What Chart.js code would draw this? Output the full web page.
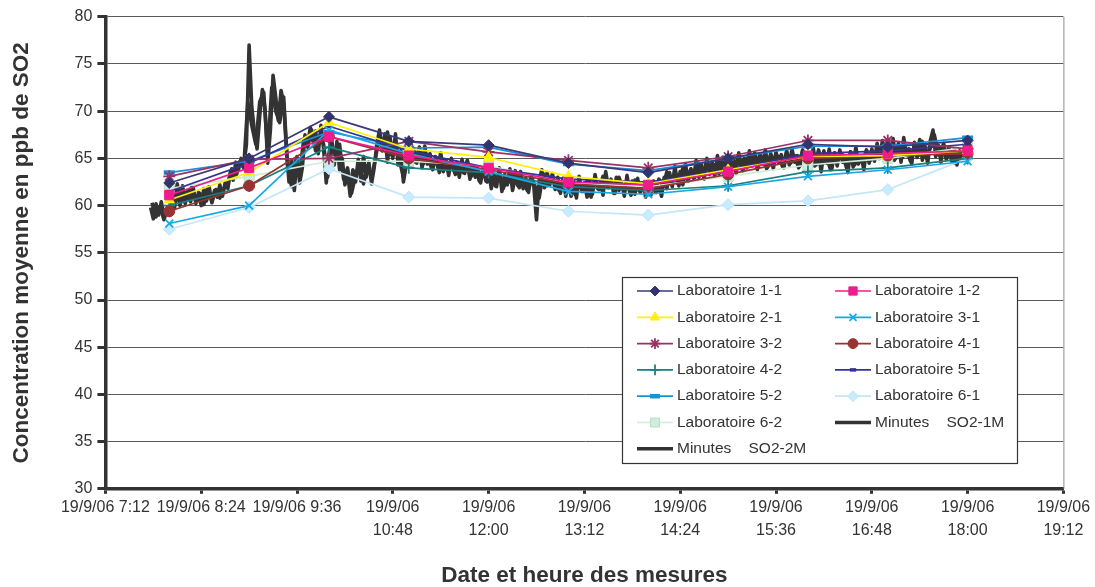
<!DOCTYPE html>
<html><head><meta charset="utf-8">
<script src="https://cdn.jsdelivr.net/npm/chart.js@4.4.1/dist/chart.umd.min.js"></script>
<style>html,body{margin:0;padding:0;background:#fff;}#wrap{width:1095px;height:587px;position:relative;}</style>
</head><body><div id="wrap"><canvas id="c" width="1095" height="587"></canvas></div>
<script>
// ---- DATA ----
// Laboratory hourly means, times in minutes since midnight (8:00 .. 18:00)
const labTimes = [480, 540, 600, 660, 720, 780, 840, 900, 960, 1020, 1080];
const labNames = ['Laboratoire 1-1','Laboratoire 1-2','Laboratoire 2-1','Laboratoire 3-1','Laboratoire 3-2','Laboratoire 4-1','Laboratoire 4-2','Laboratoire 5-1','Laboratoire 5-2','Laboratoire 6-1','Laboratoire 6-2'];
const lab11 = [62.4, 65.0, 69.4, 66.8, 66.4, 64.5, 63.5, 65.0, 66.5, 66.2, 66.9];
const lab12 = [61.1, 64.0, 67.3, 65.3, 64.0, 62.5, 62.2, 63.6, 65.3, 65.5, 65.8];
const lab21 = [60.6, 63.5, 68.8, 66.0, 65.1, 63.1, 62.3, 63.8, 65.2, 65.3, 65.8];
const lab31 = [58.1, 60.0, 68.0, 65.5, 63.6, 61.5, 61.2, 62.0, 63.1, 63.8, 64.7];
const lab32 = [63.1, 64.9, 65.0, 66.8, 65.7, 64.8, 64.0, 65.2, 66.9, 66.9, 66.0];
const lab41 = [59.4, 62.1, 67.3, 65.0, 63.8, 62.3, 61.8, 63.3, 65.0, 65.3, 65.5];
const lab42 = [60.0, 62.1, 66.2, 64.0, 63.5, 62.0, 61.6, 62.1, 63.6, 64.0, 65.0];
const lab51 = [61.5, 64.5, 68.4, 65.8, 64.0, 62.8, 62.5, 63.8, 65.5, 65.8, 66.5];
const lab52 = [63.5, 64.7, 67.8, 66.1, 66.2, 64.4, 63.7, 65.0, 66.3, 66.3, 67.2];
const lab61 = [57.5, 59.8, 63.9, 60.9, 60.8, 59.4, 59.0, 60.1, 60.5, 61.7, 65.0];
const lab62 = [61.8, 63.1, 64.7, 64.7, 64.2, 62.4, 62.0, 63.1, 64.3, 65.0, 66.2];
const labValues = [lab11, lab12, lab21, lab31, lab32, lab41, lab42, lab51, lab52, lab61, lab62];

// Minute analyser series (values read every 2 min / 3 min)
const minNames = ['Minutes    SO2-1M', 'Minutes    SO2-2M'];
const so2_1M_start = 466, so2_1M_step = 2;
const so2_1M = [
 59.8, 58.6, 60.2, 59.0, 60.4, 58.9, 59.6,
 59.0, 60.8, 59.8, 62.3, 60.6, 62.1, 60.2, 61.6, 60.4, 61.9,
 60.2, 61.4, 60.0, 61.8, 60.5, 62.0, 60.3, 61.6, 60.9, 62.2, 61.0, 62.4,
 61.8, 63.6, 62.7, 64.6, 63.8, 65.0, 64.2, 66.5,
 77.0,
 70.5, 67.8, 66.0, 69.5, 72.3, 70.2, 64.5, 68.0, 73.8, 71.5, 69.0, 72.2, 70.8, 66.0,
 62.5, 64.8, 61.6, 65.2, 62.4, 64.0, 67.5, 66.4, 68.3, 66.8, 67.9, 65.5, 68.5, 66.0, 62.4,
 65.5, 67.2, 64.3, 66.8, 63.8, 65.0, 62.2, 63.5, 61.0, 63.8, 62.5, 64.9, 62.6, 65.2, 63.0, 64.6, 62.3, 64.0, 66.5, 68.0, 65.8, 67.6, 64.6, 67.2, 65.0, 67.6, 64.3, 65.8, 62.5, 64.2,
 66.4, 64.2, 66.0, 64.5, 65.8, 64.0, 66.3, 64.4, 65.5, 63.8, 65.2, 64.1, 65.6, 63.6, 64.8, 63.2, 65.0, 63.7, 64.6, 63.0, 64.9, 63.4, 64.5, 62.8, 64.2, 63.0, 63.9, 62.4, 64.0, 62.6,
 63.8, 61.8, 63.4, 62.0, 64.0, 61.5, 63.3, 62.2, 63.9, 61.6, 63.0, 62.1, 63.6, 61.8, 62.9, 61.4, 63.2, 62.0, 58.5, 62.6, 63.8, 61.9, 63.5, 62.2, 63.4, 61.7, 63.0, 61.3, 62.8, 61.0,
 62.9, 61.0, 62.6, 60.8, 63.1, 61.5, 62.4, 60.9, 62.7, 61.2, 63.3, 61.8, 62.5, 61.1, 63.6, 61.9, 62.8, 61.3, 63.0, 61.6, 62.4, 61.0, 63.2, 61.5, 62.6, 61.2, 62.9, 61.4, 62.3, 60.9,
 62.2, 61.1, 62.6, 61.4, 62.0, 61.0, 63.0, 61.8, 63.5, 62.0, 64.2, 62.4, 63.6, 62.2, 64.4, 62.6, 63.8, 62.9, 64.8, 63.0, 64.3, 62.8, 65.0, 63.3, 64.6, 63.1, 65.3, 63.5, 64.8, 63.4,
 65.2, 63.6, 64.9, 63.4, 65.6, 63.9, 65.0, 64.0, 65.8, 64.2, 65.3, 63.8, 65.5, 64.4, 65.9, 64.1, 65.2, 63.9, 65.7, 64.5, 65.4, 64.0, 65.8, 64.3, 66.0, 64.6, 65.3, 64.2, 65.9, 64.4,
 65.6, 64.0, 66.1, 64.3, 65.4, 63.6, 65.8, 64.5, 66.0, 63.9, 65.5, 64.2, 65.9, 64.6, 65.2, 63.5, 65.7, 64.1, 66.2, 64.4, 65.3, 63.8, 65.8, 64.5, 66.0, 64.7, 66.6, 65.0, 66.9, 65.2,
 66.8, 64.9, 67.1, 65.0, 66.4, 64.6, 67.2, 65.3, 66.0, 64.4, 66.7, 65.1, 67.0, 64.8, 66.3, 64.5, 66.9, 68.0, 65.2, 66.4, 64.6, 66.6, 65.0, 66.2, 64.7, 66.0, 64.3, 65.8, 64.9, 65.6
];
const so2_2M_start = 467, so2_2M_step = 3;
const so2_2M = [
 60.3, 58.8, 59.9, 58.5, 59.8,
 60.2, 61.9, 60.0, 61.5, 60.8, 62.0, 60.6, 61.3, 60.1, 61.9, 60.4, 61.7, 60.8, 61.8, 62.4, 63.9, 63.0, 64.6, 64.0, 71.0,
 68.5, 66.5, 71.0, 72.0, 65.5, 72.5, 70.0, 68.8, 71.5, 64.0, 62.0, 64.8, 63.2, 67.0, 66.2, 68.0, 65.8, 67.4, 66.5, 63.0,
 66.0, 64.8, 66.5, 62.8, 64.0, 61.3, 63.2, 64.5, 62.3, 64.2, 63.0, 65.0, 67.5, 66.2, 67.8, 65.4, 66.5, 64.8, 63.0, 65.2,
 65.8, 64.6, 66.2, 64.4, 65.4, 64.0, 65.0, 63.5, 64.8, 63.8, 64.6, 63.3, 64.2, 63.5, 64.8, 63.1, 64.0, 62.6, 63.6, 62.5,
 63.2, 62.1, 63.5, 61.8, 63.0, 62.4, 63.7, 61.9, 62.8, 61.6, 63.1, 62.0, 60.8, 63.4, 62.1, 63.0, 62.3, 61.6, 62.9, 61.4,
 62.3, 61.2, 62.8, 61.5, 62.6, 60.9, 62.9, 61.7, 63.1, 62.0, 62.5, 61.3, 63.0, 61.8, 62.4, 61.1, 62.7, 61.6, 62.1, 61.2,
 62.3, 61.5, 62.8, 62.0, 63.6, 62.5, 63.2, 62.1, 64.0, 62.8, 63.9, 63.0, 64.5, 63.2, 64.8, 63.6, 64.3, 63.4, 65.1, 63.8,
 64.6, 64.0, 65.4, 63.7, 65.0, 64.3, 65.6, 64.2, 65.1, 63.9, 65.5, 64.6, 65.2, 64.1, 65.7, 64.5, 65.3, 64.0, 65.8, 64.8,
 65.3, 64.2, 65.9, 64.4, 65.1, 63.8, 65.6, 64.9, 65.4, 64.0, 65.7, 64.3, 65.0, 64.6, 65.9, 64.8, 65.5, 65.0, 66.5, 65.3,
 66.2, 64.8, 66.6, 65.1, 66.0, 64.7, 66.4, 65.3, 66.8, 65.0, 66.1, 67.5, 65.4, 66.3, 64.9, 65.8, 64.5, 65.6, 64.8
];

// Axis ticks
const xTickValues = [432, 504, 576, 648, 720, 792, 864, 936, 1008, 1080, 1152];
const xTickLabels = ['19/9/06 7:12', '19/9/06 8:24', '19/9/06 9:36', '19/9/06\n10:48', '19/9/06\n12:00', '19/9/06\n13:12', '19/9/06\n14:24', '19/9/06\n15:36', '19/9/06\n16:48', '19/9/06\n18:00', '19/9/06\n19:12'];
const yMin = 30, yMax = 80, yStep = 5;
const xTitle = 'Date et heure des mesures';
const yTitle = 'Concentration moyenne en ppb de SO2';

// ---- STYLES ----
const labStyles = [
 {line:'#3a3a78', fill:'#33336e', border:'#33336e', ps:'rectRot', r:5.5, bw:1},
 {line:'#ee1c8c', fill:'#ee1c8c', border:'#ee1c8c', ps:'rect', r:6.5, bw:1},
 {line:'#fff200', fill:'#fff200', border:'#fff200', ps:'triangle', r:6, bw:1},
 {line:'#1aa7e6', fill:'#1aa7e6', border:'#1aa7e6', ps:'crossRot', r:5.5, bw:1.8},
 {line:'#993366', fill:'#993366', border:'#993366', ps:'star', r:6, bw:1.8},
 {line:'#993333', fill:'#993333', border:'#993333', ps:'circle', r:5.5, bw:1},
 {line:'#1a7f7f', fill:'#1a7f7f', border:'#1a7f7f', ps:'cross', r:6, bw:1.8},
 {line:'#333399', fill:'#333399', border:'#333399', ps:'line', r:3.5, bw:3.5},
 {line:'#1a8fdc', fill:'#1a8fdc', border:'#1a8fdc', ps:'line', r:5.5, bw:4.5},
 {line:'#c4e6f8', fill:'#c8ecff', border:'#bfe3f7', ps:'rectRot', r:6, bw:1},
 {line:'#cdeed6', fill:'#cdeedb', border:'#bcdcc8', ps:'rect', r:7, bw:1}
];
const minColor = '#333333';

const datasets = [];
labValues.forEach((vals, i) => {
  const s = labStyles[i];
  datasets.push({
    label: labNames[i],
    data: labTimes.map((t, k) => ({x: t, y: vals[k]})),
    borderColor: s.line, borderWidth: 1.7,
    pointStyle: s.ps, pointRadius: s.r, pointBackgroundColor: s.fill,
    pointBorderColor: s.border, pointBorderWidth: s.bw,
    tension: 0, order: 0
  });
});
datasets.push({
  label: minNames[0],
  data: so2_1M.map((v, k) => ({x: so2_1M_start + k * so2_1M_step, y: v})),
  borderColor: minColor, borderWidth: 3.6, pointRadius: 0, tension: 0, order: 1
});
datasets.push({
  label: minNames[1],
  data: so2_2M.map((v, k) => ({x: so2_2M_start + k * so2_2M_step, y: v})),
  borderColor: minColor, borderWidth: 3.6, pointRadius: 0, tension: 0, order: 1
});

const FONT = '"Liberation Sans", Arial, sans-serif';

const decoPlugin = {
  id: 'deco',
  afterDraw(chart) {
    const ctx = chart.ctx, ca = chart.chartArea;
    ctx.save();
    ctx.strokeStyle = '#8c8c8c'; ctx.lineWidth = 1;
    ctx.beginPath(); ctx.moveTo(ca.right + 0.5, ca.top); ctx.lineTo(ca.right + 0.5, ca.bottom); ctx.stroke();
    // legend
    const bx = 622.5, by = 277.5, bw = 395, bh = 186;
    ctx.fillStyle = '#fff'; ctx.fillRect(bx, by, bw, bh);
    ctx.strokeStyle = '#333'; ctx.lineWidth = 1.2; ctx.strokeRect(bx, by, bw, bh);
    ctx.font = '15.5px ' + FONT;
    ctx.textBaseline = 'middle'; ctx.textAlign = 'left';
    chart.data.datasets.forEach((ds, i) => {
      const col = i % 2, row = Math.floor(i / 2);
      const lx = col === 0 ? 637 : 835;
      const cy = 291 + row * 26.3;
      ctx.strokeStyle = ds.borderColor; ctx.lineWidth = ds.borderWidth;
      ctx.beginPath(); ctx.moveTo(lx, cy); ctx.lineTo(lx + 36, cy); ctx.stroke();
      if (ds.pointRadius > 0) {
        ctx.fillStyle = ds.pointBackgroundColor; ctx.strokeStyle = ds.pointBorderColor; ctx.lineWidth = ds.pointBorderWidth;
        Chart.helpers.drawPoint(ctx, {pointStyle: ds.pointStyle, radius: ds.pointRadius * 0.9, rotation: 0, borderWidth: ds.pointBorderWidth}, lx + 18, cy);
      }
      ctx.fillStyle = '#333';
      ctx.fillText(ds.label, lx + 40, cy);
    });
    ctx.restore();
  }
};

new Chart(document.getElementById('c'), {
  type: 'line',
  data: {datasets},
  options: {
    responsive: false, animation: false,
    layout: {padding: {top: 16.8, right: 31.6, left: 0, bottom: 0}},
    plugins: {legend: {display: false}, tooltip: {enabled: false}},
    elements: {line: {borderJoinStyle: 'round'}},
    scales: {
      x: {
        type: 'linear', min: 432, max: 1152,
        afterBuildTicks: (sc) => { sc.ticks = xTickValues.map(v => ({value: v})); },
        afterFit: (sc) => { sc.height = 98.2; },
        ticks: {
          autoSkip: false, maxRotation: 0, minRotation: 0, padding: 2, color: '#333',
          font: {family: FONT, size: 16, lineHeight: 1.45},
          callback: (v) => { const s = xTickLabels[xTickValues.indexOf(v)]; return s.indexOf('\n') >= 0 ? s.split('\n') : s; }
        },
        grid: {drawOnChartArea: false, drawTicks: true, tickLength: 5, tickWidth: 3, tickColor: '#333'},
        border: {display: true, color: '#333', width: 3.5},
        title: {display: true, text: xTitle, color: '#333', font: {family: FONT, size: 22.5, weight: 'bold', lineHeight: 1}, padding: {top: 0, bottom: 0}}
      },
      y: {
        min: yMin, max: yMax,
        afterFit: (sc) => { sc.width = 105.4; },
        ticks: {stepSize: yStep, padding: 5, color: '#333', font: {family: FONT, size: 16}},
        grid: {color: '#5a5a5a', lineWidth: 1, tickLength: 8, tickWidth: 3, tickColor: '#333'},
        border: {display: true, color: '#333', width: 3.5},
        title: {display: true, text: yTitle, color: '#333', font: {family: FONT, size: 22.5, weight: 'bold', lineHeight: 1}, padding: {top: 11, bottom: 0}}
      }
    }
  },
  plugins: [decoPlugin]
});
</script></body></html>
